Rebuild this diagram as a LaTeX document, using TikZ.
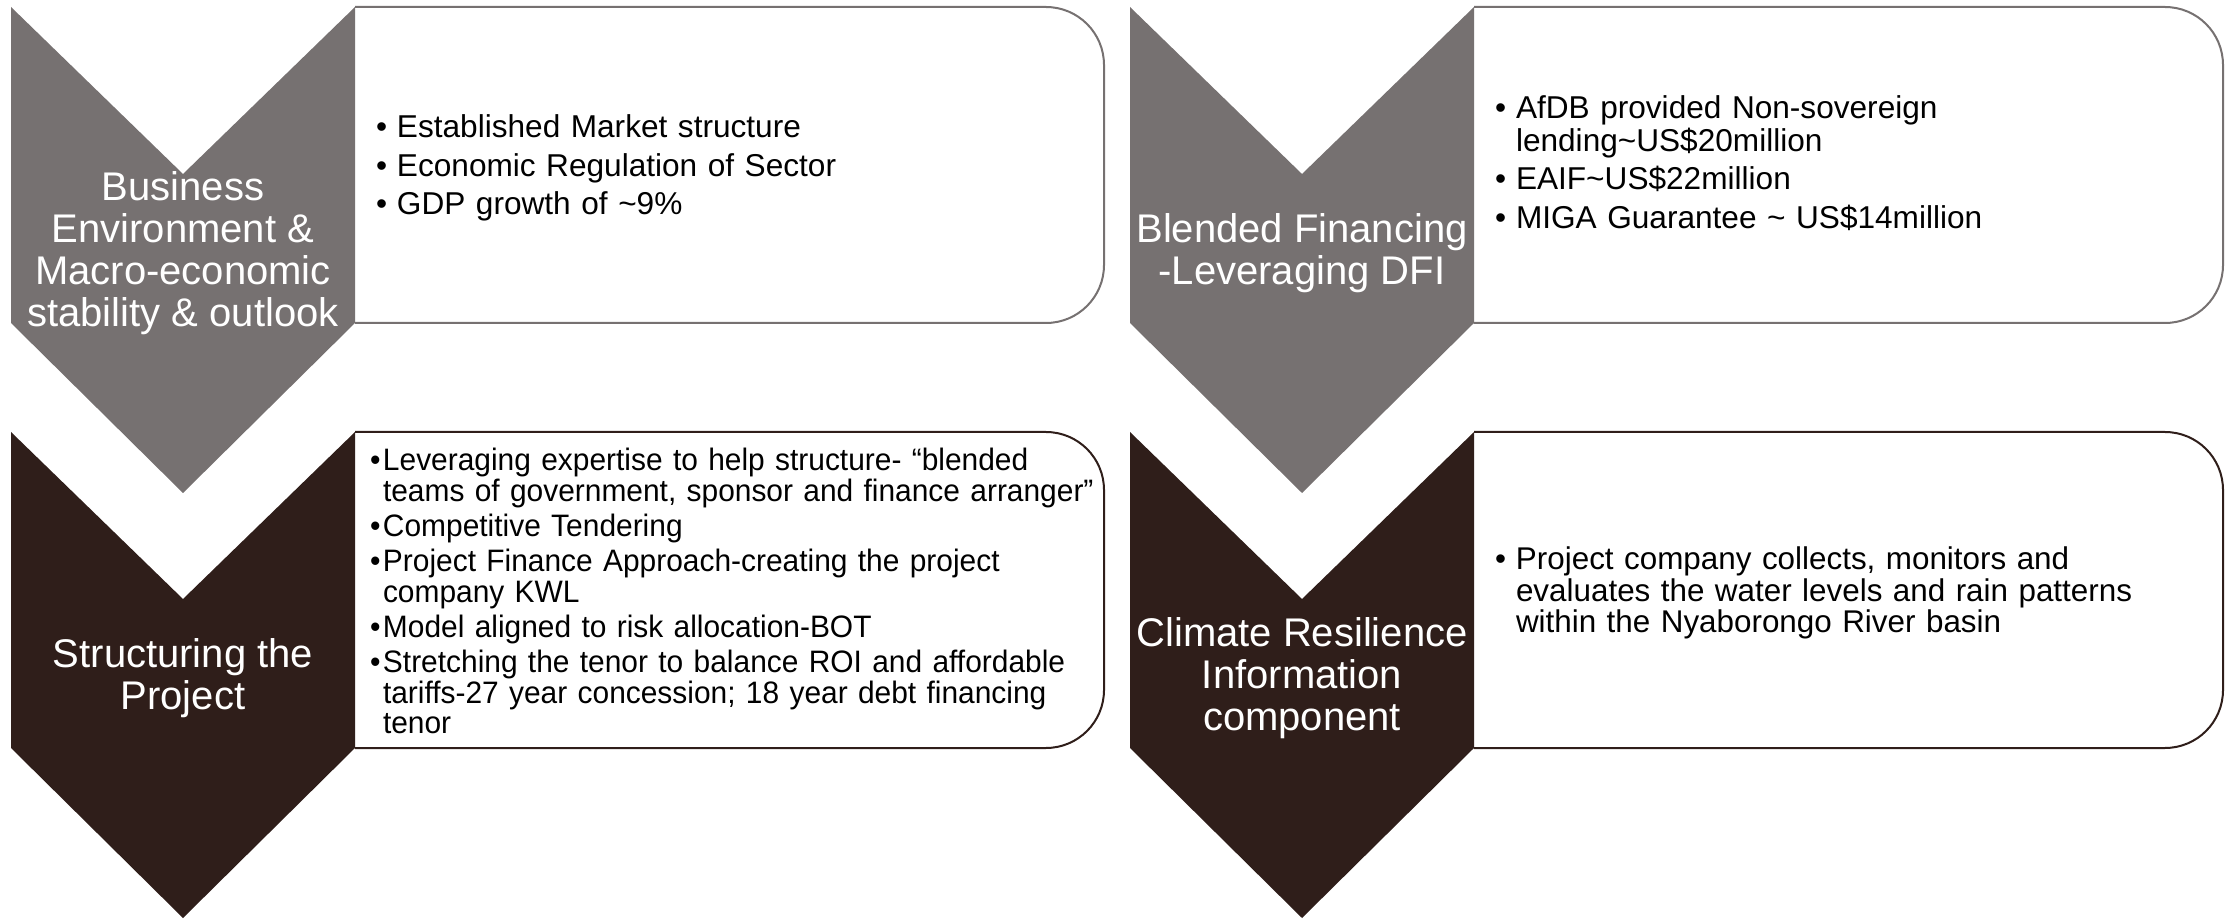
\documentclass[tikz,border=0pt]{standalone}
\usepackage{fontspec}
\setmainfont{Liberation Sans}
\newfontfamily\narrowsans[FakeStretch=0.965]{Liberation Sans}
\usepackage{tikz}

\definecolor{grey1}{HTML}{767171}
\definecolor{brown1}{HTML}{2F1E1A}
\newcommand{\bulskip}{2.6pt}
\newcommand{\bul}[2][10.5pt]{\parskip=\bulskip\hangindent=#1\hangafter=1\noindent\makebox[#1][l]{\textbullet}#2\par}

\begin{document}
\begin{tikzpicture}[x=0.5pt,y=-0.5pt,line width=1pt,head/.style={text=white,align=center,font=\fontsize{20}{21}\selectfont},pts/.style={anchor=west,inner sep=0pt,text width=380pt,align=left,font=\fontsize{15.8}{16.6}\selectfont}]
\useasboundingbox (0,0) rectangle (2233,919);
\foreach \x/\y/\c/\i in {11/7/grey1/1,1130/7/grey1/2,11/432/brown1/3,1130/432/brown1/4}{\draw[color=\c,fill=white,rounded corners=29pt] (\x+344,\y) -- (\x+1093,\y) -- (\x+1093,\y+316) -- (\x+344,\y+316); \fill[color=\c] (\x,\y) -- ++(172,167) -- ++(172,-167) -- ++(0,316) -- ++(-172,170) -- ++(-172,-170) -- cycle; \coordinate (h\i) at (\x+172,\y+246); \coordinate (p\i) at (\x+364,\y+161);};
\node[head] (env) at (h1) {Business\\Environment \&\\Macro-economic\\stability \& outlook};
\node[head] (dfi) at (h2) {Blended Financing\\-Leveraging DFI};
\node[head] (struct) at (h3) {Structuring the\\Project};
\node[head] (clim) at (h4) {Climate Resilience\\Information\\component};
\node[pts] (envpts) at (p1) {\bul{Established Market structure}\bul{Economic Regulation of Sector}\bul{GDP growth of \textasciitilde9\%}};
\node[pts] (dfipts) at ([yshift=2.5pt]p2) {\bul{AfDB provided Non-sovereign\newline lending\textasciitilde US\$20million}\bul{EAIF\textasciitilde US\$22million}\bul{MIGA Guarantee \textasciitilde{} US\$14million}};
\node[pts,font=\narrowsans\fontsize{15.5}{15.3}\selectfont\def\bulskip{2.3pt}] (structpts) at ([xshift=-3pt,yshift=1pt]p3) {\bul[6.5pt]{Leveraging expertise to help structure- “blended\newline teams of government, sponsor and finance arranger”}\bul[6.5pt]{Competitive Tendering}\bul[6.5pt]{Project Finance Approach-creating the project\newline company KWL}\bul[6.5pt]{Model aligned to risk allocation-BOT}\bul[6.5pt]{Stretching the tenor to balance ROI and affordable\newline tariffs-27 year concession; 18 year debt financing\newline tenor}};
\node[pts,font=\fontsize{15.7}{15.8}\selectfont] (climpts) at (p4) {\bul{Project company collects, monitors and\newline evaluates the water levels and rain patterns\newline within the Nyaborongo River basin}};
\end{tikzpicture}
\end{document}
